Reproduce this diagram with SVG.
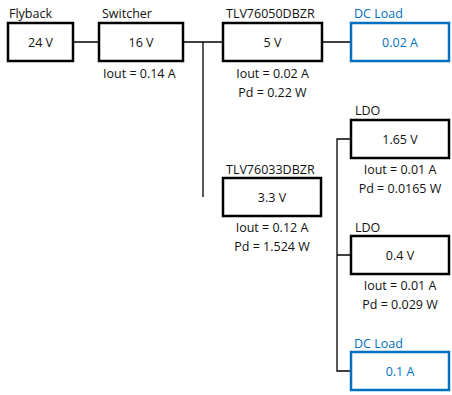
<svg xmlns="http://www.w3.org/2000/svg" width="452" height="395" viewBox="0 0 452 395">
<style>
text{font-family:"Open Sans","Liberation Sans",Arial,sans-serif;font-size:12.5px;fill:#111}
.b{fill:#fff;stroke:#000;stroke-width:2.5}
.bl{fill:#fff;stroke:#0070C0;stroke-width:2.5}
.t{fill:#0070C0}
.c{text-anchor:middle}
.w{fill:none;stroke:#000;stroke-width:1.3}
</style>
<rect width="452" height="395" fill="#fff"/>
<g id="connectors">
<path class="w" d="M73,42H99M183,42H223M203,42V197M322,42H351M351,139H337V371H351M337,255H351"/>
</g>
<g id="flyback">
<text x="9" y="18">Flyback</text>
<rect class="b" x="8" y="23" width="65" height="38"/>
<text class="c" x="40.5" y="47">24 V</text>
</g>
<g id="switcher">
<text x="102" y="18">Switcher</text>
<rect class="b" x="99" y="23" width="84" height="38"/>
<text class="c" x="141" y="47">16 V</text>
<text x="103" y="78">Iout = 0.14 A</text>
</g>
<g id="tlv76050">
<text x="226" y="18">TLV76050DBZR</text>
<rect class="b" x="223" y="23" width="99" height="38"/>
<text class="c" x="272.5" y="47">5 V</text>
<text class="c" x="272.5" y="78">Iout = 0.02 A</text>
<text class="c" x="272.5" y="97">Pd = 0.22 W</text>
</g>
<g id="dcload1">
<text class="t" x="354" y="18">DC Load</text>
<rect class="bl" x="351" y="23" width="98" height="38"/>
<text class="c t" x="400" y="47">0.02 A</text>
</g>
<g id="ldo1">
<text x="355" y="115">LDO</text>
<rect class="b" x="351" y="120" width="98" height="38"/>
<text class="c" x="400" y="144">1.65 V</text>
<text class="c" x="400" y="174">Iout = 0.01 A</text>
<text class="c" x="400" y="193">Pd = 0.0165 W</text>
</g>
<g id="tlv76033">
<text x="226" y="174">TLV76033DBZR</text>
<rect class="b" x="223" y="178" width="98" height="38"/>
<text class="c" x="272" y="202">3.3 V</text>
<text class="c" x="272" y="232">Iout = 0.12 A</text>
<text class="c" x="272" y="251">Pd = 1.524 W</text>
</g>
<g id="ldo2">
<text x="355" y="232">LDO</text>
<rect class="b" x="351" y="236" width="98" height="38"/>
<text class="c" x="400" y="260">0.4 V</text>
<text class="c" x="400" y="290">Iout = 0.01 A</text>
<text class="c" x="400" y="309">Pd = 0.029 W</text>
</g>
<g id="dcload2">
<text class="t" x="354" y="348">DC Load</text>
<rect class="bl" x="351" y="352" width="98" height="38"/>
<text class="c t" x="400" y="376">0.1 A</text>
</g>
</svg>
